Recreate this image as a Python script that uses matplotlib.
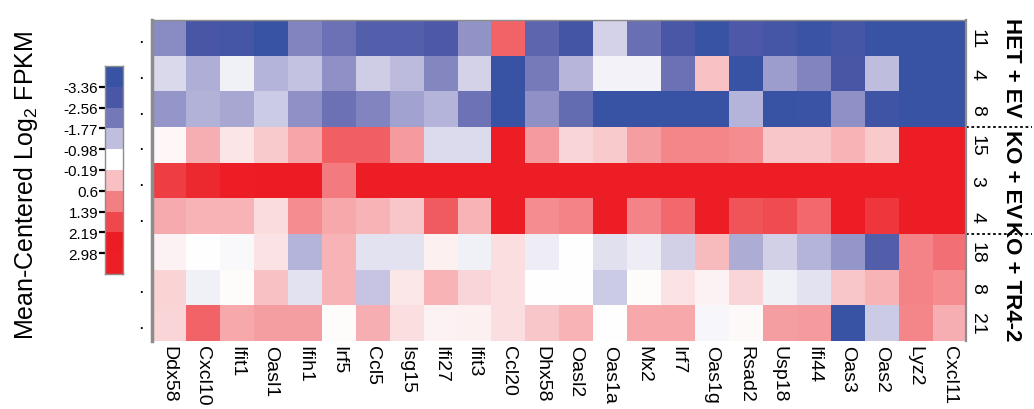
import numpy as np
import matplotlib
matplotlib.use("Agg")
import matplotlib.pyplot as plt
from matplotlib.colors import LinearSegmentedColormap, Normalize, ListedColormap

plt.rcParams['font.family'] = ['Liberation Sans', 'DejaVu Sans']
plt.rcParams['mathtext.fontset'] = 'custom'
plt.rcParams['mathtext.rm'] = 'Liberation Sans'
plt.rcParams['mathtext.default'] = 'regular'

genes = ["Ddx58", "Cxcl10", "Ifit1", "Oasl1", "Ifih1", "Irf5", "Ccl5", "Isg15",
         "Ifi27", "Ifit3", "Ccl20", "Dhx58", "Oasl2", "Oas1a", "Mx2", "Irf7",
         "Oas1g", "Rsad2", "Usp18", "Ifi44", "Oas3", "Oas2", "Lyz2", "Cxcl11"]
sample_labels = ["11", "4", "8", "15", "3", "4", "18", "8", "21"]
groups = ["HET + EV", "KO + EV", "KO + TR4-2"]
group_sizes = [3, 3, 3]

het_11 = [-1.94, -2.96, -3.10, -3.76, -2.02, -2.33, -2.75, -2.75, -2.87, -1.86, 1.38, -2.60,
          -3.20, -1.12, -2.35, -2.95, -3.76, -2.88, -3.10, -3.70, -3.10, -3.76, -3.76, -3.76]
het_4 = [-1.05, -1.55, -0.75, -1.50, -1.33, -1.88, -1.18, -1.40, -2.00, -1.12, -3.76, -2.13,
         -1.47, -0.74, -0.74, -2.33, 0.20, -3.76, -1.75, -2.01, -2.96, -1.37, -3.76, -3.76]
het_8 = [-1.81, -1.51, -1.64, -1.21, -1.88, -2.33, -2.01, -1.68, -1.50, -2.30, -3.76, -1.88,
         -2.45, -3.76, -3.76, -3.76, -3.76, -1.50, -3.76, -3.60, -1.88, -3.40, -3.76, -3.76]
koev_15 = [-0.47, 0.40, -0.27, 0.08, 0.53, 1.43, 1.43, 0.67, -1.00, -1.00, 3.00, 0.67,
           -0.07, 0.08, 0.61, 0.92, 0.92, 0.83, 0.14, 0.14, 0.36, 0.07, 3.00, 3.00]
koev_3 = [1.95, 2.33, 3.00, 2.80, 2.60, 1.04, 3.00, 3.00, 3.00, 3.00, 3.00, 3.00,
          3.00, 3.00, 3.00, 3.00, 3.00, 3.00, 3.00, 3.00, 3.00, 3.00, 3.00, 3.00]
koev_4 = [0.46, 0.34, 0.36, -0.16, 0.82, 0.48, 0.36, 0.13, 1.50, 0.36, 3.00, 0.84,
          0.95, 3.00, 0.95, 1.29, 3.00, 1.62, 1.73, 1.29, 3.00, 2.07, 3.00, 3.00]
tr_18 = [-0.42, -0.585, -0.64, -0.22, -1.50, 0.36, -0.93, -0.93, -0.40, -0.77, -0.17, -0.80,
         -0.585, -0.95, -0.80, -1.15, 0.28, -1.57, -1.15, -1.49, -1.81, -2.78, 0.95, 1.19]
tr_8 = [-0.05, -0.77, -0.55, 0.19, -0.93, 0.36, -1.30, -0.29, 0.36, -0.07, -0.17, -0.585,
        -0.585, -1.21, -0.55, -0.23, -0.43, -0.07, -0.76, -0.93, 0.13, 0.34, 0.95, 0.84]
tr_21 = [-0.07, 1.38, 0.50, 0.61, 0.61, -0.55, 0.40, -0.17, -0.43, -0.40, -0.17, 0.13,
         0.34, -0.585, 0.50, 0.50, -0.68, -0.50, 0.60, 0.66, -3.76, -1.22, 0.92, 0.40]

cbar_ticks = [-3.36, -2.56, -1.77, -0.98, -0.19, 0.6, 1.39, 2.19, 2.98]
cbar_colors = ["#3953A4", "#4A57A7", "#7478B8", "#C0BEDF", "#FFFFFF",
               "#F8C0C3", "#F47F83", "#EF474C", "#ED1C24", "#EE1E26"]

data = np.array([het_11, het_4, het_8, koev_15, koev_3, koev_4, tr_18, tr_8, tr_21])

# continuous colormap anchored at colorbar segment centres
seg_centres = [-3.76, -2.96, -2.165, -1.375, -0.585, 0.205, 0.995, 1.79, 2.585, 3.38]
vmin, vmax = seg_centres[0], seg_centres[-1]
nodes = [((v - vmin) / (vmax - vmin), c) for v, c in zip(seg_centres, cbar_colors)]
cmap = LinearSegmentedColormap.from_list("bwr_custom", nodes)
norm = Normalize(vmin=vmin, vmax=vmax)

fig = plt.figure(figsize=(10.34, 4.10), dpi=100)

nrow, ncol = data.shape

# heatmap
ax = fig.add_axes([152/1034, 1 - 342/410, 814/1034, 321/410])
ax.imshow(data, cmap=cmap, norm=norm, aspect='auto', interpolation='nearest')
ax.set_xticks(np.arange(ncol))
ax.set_xticklabels(genes, rotation=270, fontsize=14, ha='center', va='top')
ax.tick_params(axis='x', length=0, pad=3)
ax.set_yticks(np.arange(nrow))
ax.set_yticklabels(['.' if i != 6 else '' for i in range(nrow)], fontsize=9, fontweight='bold')
ax.tick_params(axis='y', length=0, pad=7)
for s in ['left', 'top', 'right']:
    ax.spines[s].set_color('#8C8C8C')
ax.spines['left'].set_linewidth(2.5)
ax.spines['right'].set_linewidth(1.6)
ax.spines['top'].set_linewidth(1.0)
ax.spines['bottom'].set_visible(False)

# row labels on the right
for i, lab in enumerate(sample_labels):
    ax.text(ncol - 0.5 + 0.33, i, lab, rotation=270, fontsize=14,
            ha='center', va='center', clip_on=False)

# group labels and separators
start = 0
for g, n in zip(groups, group_sizes):
    centre = start + (n - 1) / 2 - 0.2
    ax.text(ncol - 0.5 + 1.35, centre, g, rotation=270, fontsize=16, fontweight='bold',
            ha='center', va='center', clip_on=False)
    start += n
    if start < nrow:
        ax.plot([ncol - 0.5, ncol - 0.5 + 1.95], [start - 0.5, start - 0.5],
                ls=(0, (1.5, 1.5)), color='black', lw=1.3, clip_on=False)

ax.set_xlim(-0.5, ncol - 0.5)
ax.set_ylim(nrow - 0.5, -0.5)

# colorbar
cax = fig.add_axes([105/1034, 1 - 275/410, 18/1034, 208/410])
cax.imshow(np.arange(len(cbar_colors)).reshape(-1, 1), cmap=ListedColormap(cbar_colors),
           aspect='auto', interpolation='nearest', extent=[0, 1, len(cbar_colors), 0])
cax.set_xticks([])
cax.set_yticks(np.arange(1, len(cbar_colors)))
cax.set_yticklabels([f"{t:g}" for t in cbar_ticks], fontsize=11)
cax.tick_params(axis='y', length=4, width=1.6, direction='out', pad=1)
tick_cols = ["#2B3F85", "#3C4690", "#5A5E9E", "#A8A6C8", "#C8C8C8",
             "#D96A6E", "#C8383C", "#B8161C", "#A8141A"]
for tl, c in zip(cax.yaxis.get_ticklines()[::2], tick_cols):
    tl.set_color(c)
for s in cax.spines.values():
    s.set_color('#8C8C8C')
    s.set_linewidth(1.0)

fig.text(26/1034, 1 - 185/410, 'Mean-Centered Log$_2$ FPKM', rotation=90,
         fontsize=18, ha='center', va='center')

fig.savefig('out.png', dpi=100)
